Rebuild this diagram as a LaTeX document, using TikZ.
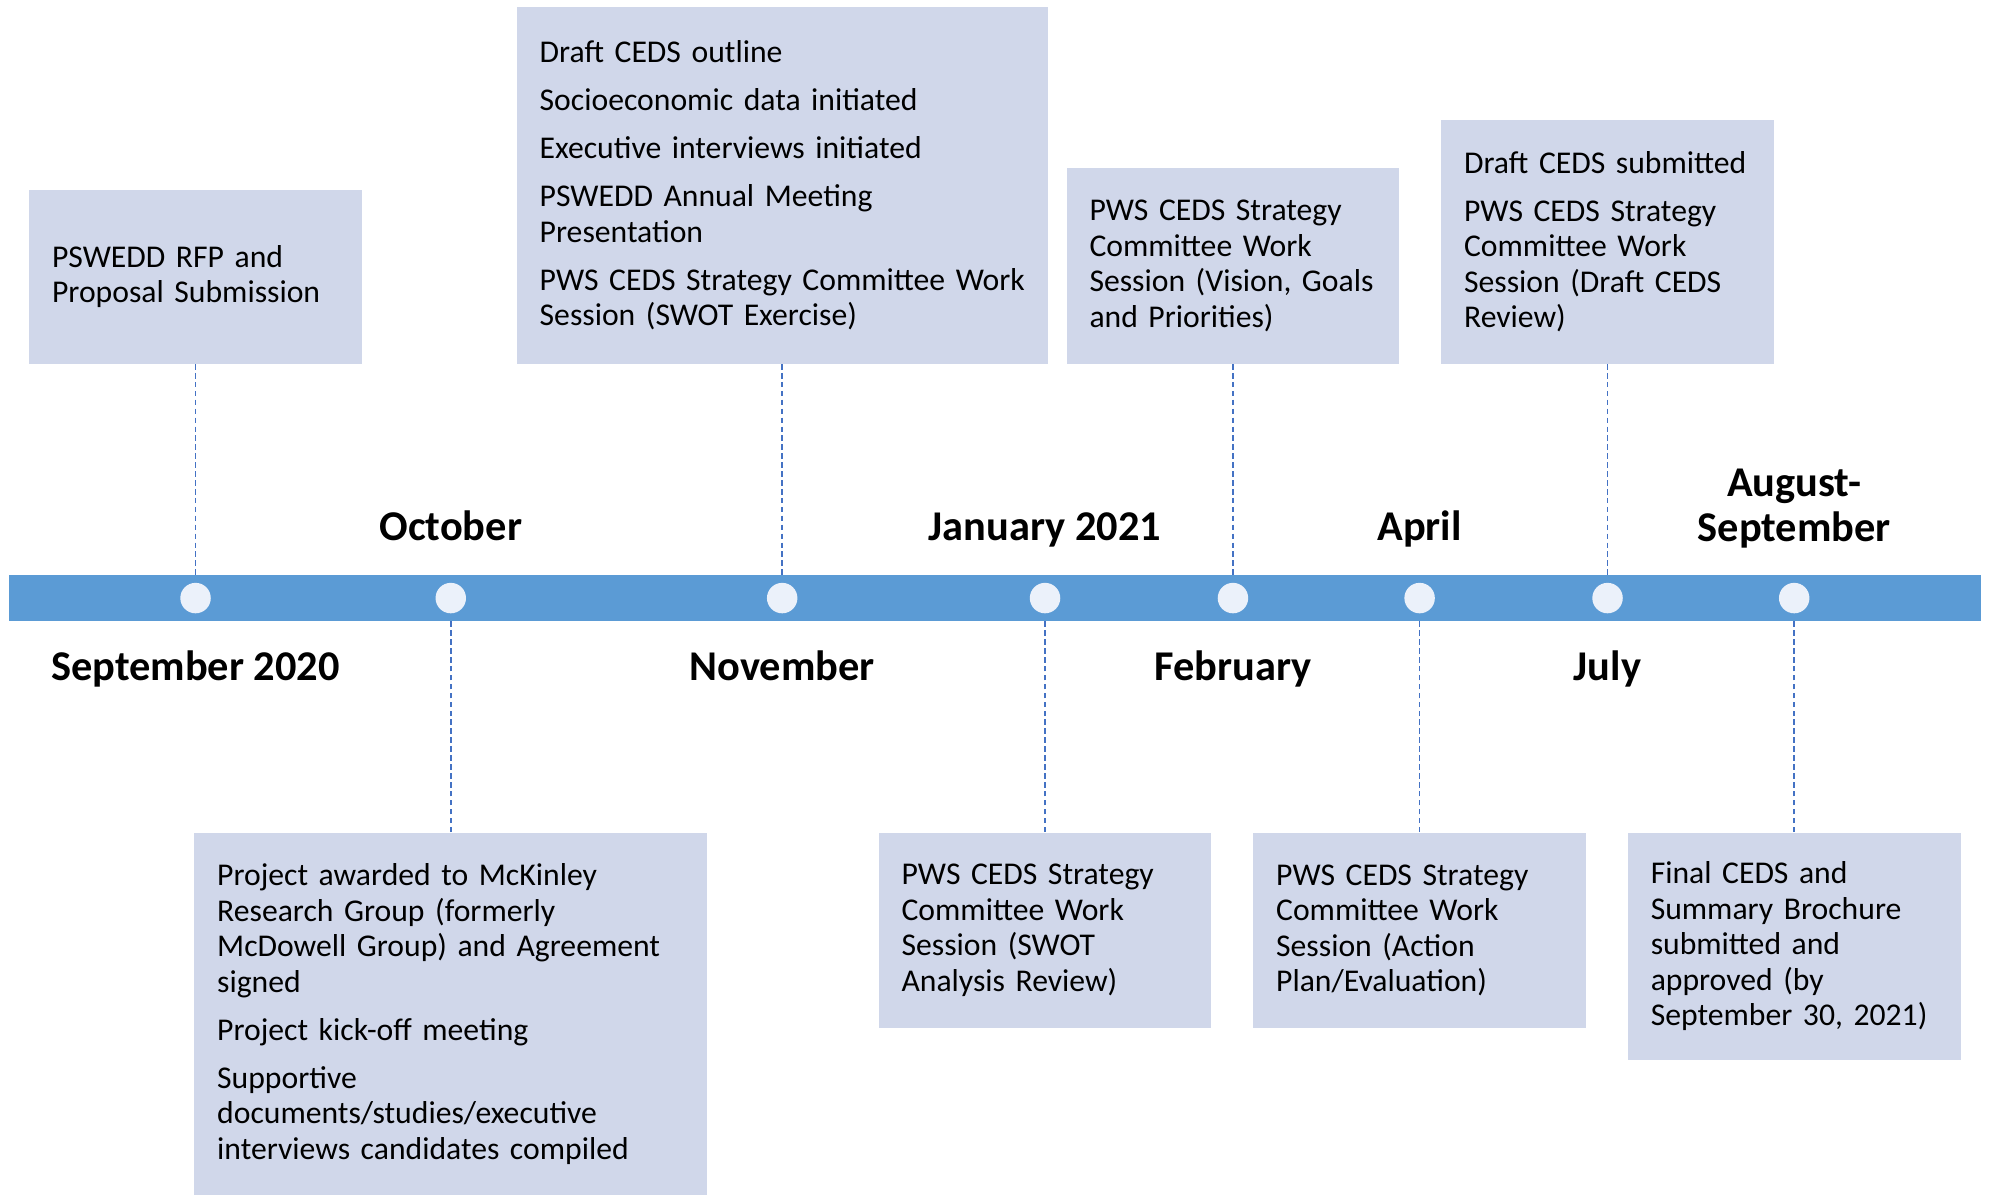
\documentclass[tikz,border=0pt]{standalone}
\usepackage{fontspec}
\setmainfont{Carlito}
\usetikzlibrary{positioning}
\definecolor{boxfill}{RGB}{208,215,234}
\definecolor{barblue}{RGB}{91,155,213}
\definecolor{dotfill}{RGB}{235,241,250}
\definecolor{linkblue}{RGB}{68,114,196}
\tikzstyle{event} = [rectangle, fill=boxfill, align=left, inner xsep=0.36cm, inner ysep=0pt, font=\fontsize{14.2}{15.9}\selectfont]
\tikzstyle{narrow} = [event, text width=4.52cm]
\tikzstyle{daydot} = [circle, fill=dotfill, minimum size=0.48cm, inner sep=0pt]
\tikzstyle{month} = [align=center, font=\fontsize{19}{20}\selectfont\bfseries]
\tikzstyle{monthone} = [month, text height=0.7em, text depth=0.25em]
\tikzstyle{link} = [linkblue, line width=0.7pt, dash pattern=on 2.5pt off 1.5pt]

\begin{document}
\begin{tikzpicture}[x=0.02cm, y=-0.02cm]
\useasboundingbox (0,0) rectangle (1568,941);

% timeline bar and dots
\node (bar) [rectangle, fill=barblue, minimum width=31.06cm, minimum height=0.72cm, inner sep=0pt] at (783.5,471) {};
\node (d1) [daydot] at (154,471) {};
\node (d2) [daydot] at (355,471) {};
\node (d3) [daydot] at (616,471) {};
\node (d4) [daydot] at (823,471) {};
\node (d5) [daydot] at (971,471) {};
\node (d6) [daydot] at (1118,471) {};
\node (d7) [daydot] at (1266,471) {};
\node (d8) [daydot] at (1413,471) {};

% months
\node (m1) [monthone, yshift=-1.22cm] at (d1) {September 2020};
\node (m2) [monthone, yshift=0.98cm] at (d2) {October};
\node (m3) [monthone, yshift=-1.22cm] at (d3) {November};
\node (m4) [monthone, yshift=0.98cm] at (d4) {January 2021};
\node (m5) [monthone, yshift=-1.22cm] at (d5) {February};
\node (m6) [monthone, yshift=0.98cm] at (d6) {April};
\node (m7) [monthone, yshift=-1.22cm] at (d7) {July};
\node (m8) [month, yshift=1.41cm] at (d8) {August-\\September};

% events above
\node (b1) [narrow, minimum height=2.74cm, above=3.44cm of d1] {PSWEDD RFP and\\Proposal Submission};
\node (b3) [event, text width=7.64cm, minimum height=5.62cm, above=3.44cm of d3] {Draft CEDS outline\\[0.2cm]Socioeconomic data initiated\\[0.2cm]Executive interviews initiated\\[0.2cm]PSWEDD Annual Meeting\\Presentation\\[0.2cm]\mbox{PWS CEDS Strategy Committee Work}\\Session (SWOT Exercise)};
\node (b5) [narrow, minimum height=3.08cm, above=3.44cm of d5] {PWS CEDS Strategy\\Committee Work\\Session (Vision, Goals\\and Priorities)};
\node (b7) [narrow, minimum height=3.84cm, above=3.44cm of d7] {Draft CEDS submitted\\[0.2cm]PWS CEDS Strategy\\Committee Work\\Session (Draft CEDS\\Review)};

% events below
\node (b2) [event, text width=7.36cm, minimum height=5.72cm, below=3.44cm of d2] {Project awarded to McKinley\\Research Group (formerly\\McDowell Group) and Agreement\\signed\\[0.2cm]Project kick-off meeting\\[0.2cm]Supportive\\documents/studies/executive\\interviews candidates compiled};
\node (b4) [narrow, minimum height=3.08cm, below=3.44cm of d4] {PWS CEDS Strategy\\Committee Work\\Session (SWOT\\Analysis Review)};
\node (b6) [narrow, minimum height=3.08cm, below=3.44cm of d6] {PWS CEDS Strategy\\Committee Work\\Session (Action\\Plan/Evaluation)};
\node (b8) [narrow, minimum height=3.58cm, below=3.44cm of d8] {Final CEDS and\\Summary Brochure\\submitted and\\approved (by\\September 30, 2021)};

% dashed links to the bar
\draw [link] (b1) -- (b1 |- bar.north);
\draw [link] (b3) -- (b3 |- bar.north);
\draw [link] (b5) -- (b5 |- bar.north);
\draw [link] (b7) -- (b7 |- bar.north);
\draw [link] (b2) -- (b2 |- bar.south);
\draw [link] (b4) -- (b4 |- bar.south);
\draw [link] (b6) -- (b6 |- bar.south);
\draw [link] (b8) -- (b8 |- bar.south);

\end{tikzpicture}
\end{document}
